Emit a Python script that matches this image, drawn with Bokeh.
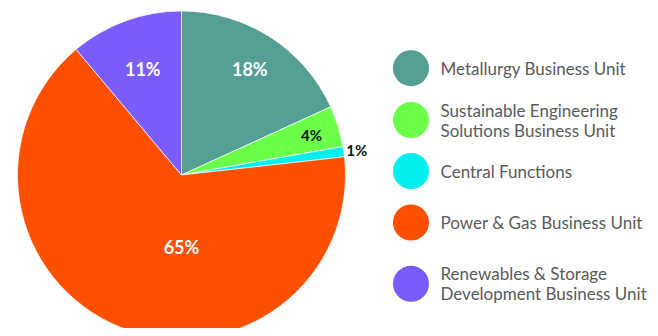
import numpy as np
from bokeh.plotting import figure
from bokeh.models import Range1d, ColumnDataSource
from bokeh.core.properties import value
from bokeh.embed import file_html
from bokeh.resources import INLINE

# ---- data ----
categories = ["Metallurgy Business Unit",
              "Sustainable Engineering\nSolutions Business Unit",
              "Central Functions",
              "Power & Gas Business Unit",
              "Renewables & Storage\nDevelopment Business Unit"]
values = [18, 4, 1, 65, 11]
labels = ["18%", "4%", "1%", "65%", "11%"]
colors = ["#559E94", "#6CFF4A", "#00F0F0", "#FF5000", "#7B5CFF"]

# ---- layout / style ----
W, H = 650, 328
OX, OY = 0, 0                          # page offset of the figure
CX, CY, R = 181, 174.5, 164            # page px
label_rfrac = [0.77, 0.83, 1.08, 0.44, 0.69]
label_dangle = [0, 0, 0, -21.8, 0]     # degrees nudge
label_color = ["white", "#111111", "#111111", "white", "white"]
label_size = ["18px", "15px", "15px", "18px", "18px"]
leg_y = [67.7, 119.5, 170.5, 222, 283.3]
leg_cx, leg_tx, leg_r = 410.5, 440, 18

p = figure(width=W, height=H, output_backend="svg", toolbar_location=None,
           x_range=Range1d(OX, OX + W), y_range=Range1d(-(OY + H), -OY),
           min_border=0, match_aspect=False)
p.axis.visible = False
p.grid.visible = False
p.outline_line_color = None
p.background_fill_color = "white"
p.border_fill_color = "white"

vals = np.array(values, dtype=float)
frac = vals / vals.sum()
cum = np.concatenate([[0], np.cumsum(frac)])
start = np.pi / 2 - 2 * np.pi * cum[:-1]
end = np.pi / 2 - 2 * np.pi * cum[1:]
src = ColumnDataSource(dict(start=start, end=end, color=colors))
p.wedge(x=CX, y=-CY, radius=R, start_angle="start", end_angle="end",
        direction="clock", fill_color="color", line_color="white",
        line_width=0.7, source=src)

mid = 2 * np.pi * (cum[:-1] + cum[1:]) / 2 + np.radians(label_dangle)
lx = CX + np.array(label_rfrac) * R * np.sin(mid)
ly = -CY + np.array(label_rfrac) * R * np.cos(mid)
for i in range(len(values)):
    p.text(x=[lx[i]], y=[ly[i]], text=[labels[i]], text_align="center",
           text_baseline="middle", text_color=label_color[i],
           text_font=value("Lato"), text_font_style="bold",
           text_font_size=label_size[i])

# legend
p.scatter(x=[leg_cx] * len(values), y=[-y for y in leg_y], size=2 * leg_r,
          fill_color=colors, line_color=None)
for i, cat in enumerate(categories):
    lines = cat.split("\n")
    n = len(lines)
    for j, t in enumerate(lines):
        yy = leg_y[i] + (j - (n - 1) / 2) * 20
        p.text(x=[leg_tx], y=[-yy], text=[t], text_align="left",
               text_baseline="middle", text_color="#5a5a5a",
               text_font=value("Lato"), text_font_size="17px")

open("out.html", "w").write(file_html(p, INLINE))
